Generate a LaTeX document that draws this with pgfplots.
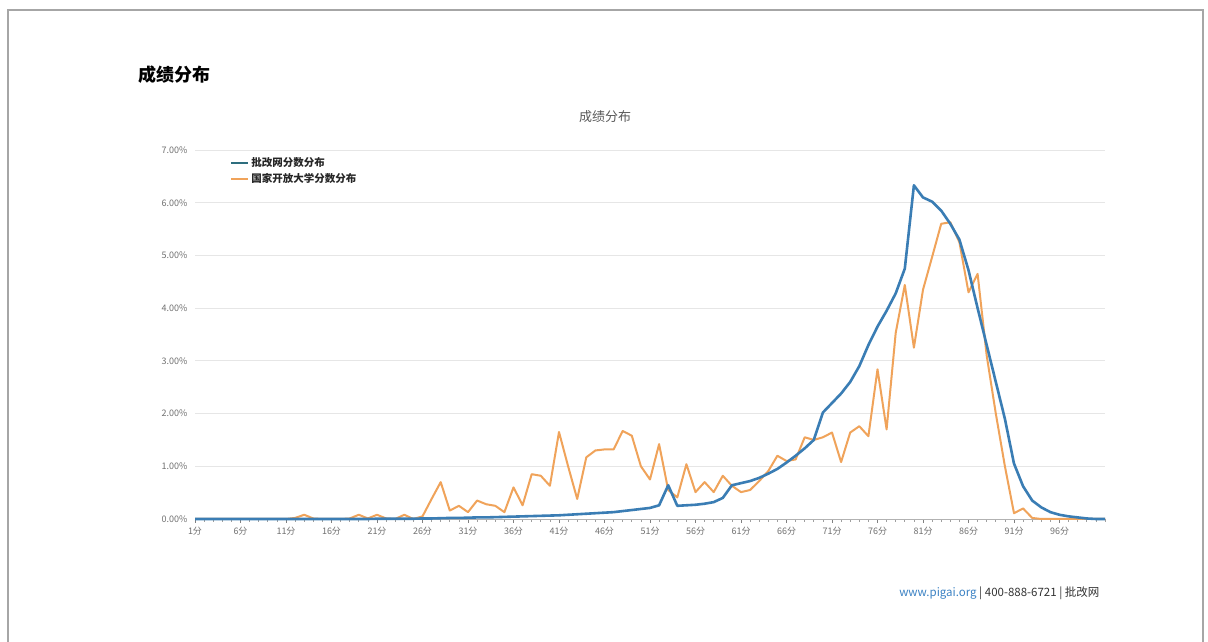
\documentclass[border=0pt]{standalone}
\usepackage{fontspec}
\setmainfont{Noto Sans CJK SC}
\usepackage{pgfplots}
\usepackage{pgfplotstable}
\pgfplotsset{compat=1.18}
\definecolor{pgblue}{HTML}{3A7DB4}
\definecolor{pgorange}{HTML}{F0A35A}
\definecolor{legblue}{HTML}{2E6E7E}
\definecolor{gridc}{HTML}{E6E6E6}
\definecolor{labc}{HTML}{707070}
\definecolor{urlc}{HTML}{3B82C4}

\pgfplotstableread{
k blue orange
1 0.00 0.00
2 0.00 0.00
3 0.00 0.00
4 0.00 0.00
5 0.00 0.00
6 0.00 0.00
7 0.00 0.00
8 0.00 0.00
9 0.00 0.00
10 0.00 0.00
11 0.00 0.00
12 0.00 0.02
13 0.00 0.08
14 0.00 0.01
15 0.00 0.00
16 0.00 0.00
17 0.00 0.00
18 0.00 0.01
19 0.00 0.08
20 0.00 0.01
21 0.005 0.08
22 0.005 0.01
23 0.005 0.00
24 0.005 0.08
25 0.005 0.00
26 0.01 0.05
27 0.01 0.38
28 0.015 0.70
29 0.02 0.16
30 0.02 0.25
31 0.025 0.13
32 0.03 0.35
33 0.03 0.28
34 0.035 0.25
35 0.04 0.13
36 0.045 0.60
37 0.05 0.26
38 0.055 0.85
39 0.06 0.82
40 0.065 0.63
41 0.07 1.65
42 0.08 1.00
43 0.09 0.38
44 0.10 1.17
45 0.11 1.30
46 0.12 1.32
47 0.13 1.32
48 0.15 1.67
49 0.17 1.58
50 0.19 1.00
51 0.21 0.75
52 0.26 1.42
53 0.64 0.55
54 0.25 0.41
55 0.26 1.04
56 0.27 0.51
57 0.29 0.70
58 0.32 0.51
59 0.40 0.82
60 0.64 0.63
61 0.68 0.51
62 0.72 0.55
63 0.78 0.72
64 0.86 0.91
65 0.95 1.20
66 1.07 1.10
67 1.20 1.13
68 1.34 1.55
69 1.50 1.50
70 2.02 1.55
71 2.20 1.64
72 2.38 1.08
73 2.60 1.64
74 2.90 1.76
75 3.30 1.57
76 3.65 2.84
77 3.95 1.70
78 4.28 3.53
79 4.75 4.44
80 6.33 3.25
81 6.10 4.35
82 6.02 4.97
83 5.85 5.60
84 5.60 5.63
85 5.30 5.25
86 4.72 4.30
87 4.00 4.65
88 3.30 3.10
89 2.60 2.00
90 1.90 1.00
91 1.05 0.11
92 0.62 0.20
93 0.35 0.02
94 0.22 0.00
95 0.13 0.00
96 0.08 0.00
97 0.05 0.00
98 0.03 0.00
99 0.01 0.00
100 0.00 0.00
101 0.00 0.00
}\scores

\begin{document}
\begin{tikzpicture}
\useasboundingbox (0pt,0pt) rectangle (1208pt,642pt);
\fill[white] (0pt,0pt) rectangle (1208pt,642pt);
\draw[gray!70, line width=1.2pt] (8pt,-5pt) -- (8pt,632pt) -- (1203pt,632pt) -- (1203pt,-5pt);
\node[anchor=west, font=\bfseries\fontsize{18}{20}\selectfont] at (135pt,567pt) {成绩分布};
\node[font=\fontsize{13}{15}\selectfont, text=black!65] at (605pt,525pt) {成绩分布};
\node[anchor=east, font=\fontsize{11.5}{13}\selectfont] at (1103pt,49pt)
  {\textcolor{urlc}{www.pigai.org} \textcolor{black!80}{| 400-888-6721 | 批改网}};
% tick marks only
\begin{axis}[
  at={(195pt,123pt)}, anchor=south west,
  scale only axis, width=910pt, height=369pt,
  xmin=1, xmax=101, ymin=0, ymax=7,
  axis x line*=bottom,
  axis y line=none,
  x axis line style={draw=gray!60, line width=0.8pt, -},
  xtick={1,6,...,96},
  minor xtick={1,...,101},
  xtick align=outside,
  xtick pos=lower,
  major tick length=4pt, minor tick length=3pt,
  xtick style={draw=gray!75, line width=0.7pt},
  xticklabels={},
]
\end{axis}
\begin{axis}[
  at={(195pt,123pt)}, anchor=south west,
  scale only axis, width=910pt, height=369pt,
  xmin=1, xmax=101, ymin=0, ymax=7,
  axis x line*=bottom,
  axis y line*=left,
  y axis line style={draw=none},
  x axis line style={draw=gray!60, line width=0.8pt, -},
  xtick={1,6,...,96},
  xtick align=outside,
  major tick length=4pt,
  ytick style={draw=none},
  xticklabel={\pgfmathprintnumber{\tick}分},
  ytick={0,1,...,7},
  ymajorgrids, grid style={gridc, line width=0.9pt},
  yticklabel={\pgfmathprintnumber[fixed,fixed zerofill,precision=2]{\tick}\%},
  /pgf/number format/assume math mode=true,
  ticklabel style={font=\fontsize{9}{10}\selectfont, text=labc},
  xticklabel style={yshift=-1pt},
  yticklabel style={xshift=-4pt},
  legend style={at={(0.035,0.99)}, anchor=north west, draw=none, fill=none,
    font=\fontsize{10.5}{12}\selectfont\bfseries, text=black!85, row sep=1pt,
    /tikz/every even column/.append style={column sep=4pt}},
  legend cell align=left,
  clip=false,
]
\addplot[pgorange, line width=2pt, line join=round, forget plot] table[x=k, y=orange] {\scores};
\addplot[pgblue, line width=2.6pt, line join=round, forget plot] table[x=k, y=blue] {\scores};
\addlegendimage{legblue, line width=2.2pt}
\addlegendentry{批改网分数分布}
\addlegendimage{pgorange, line width=2.2pt}
\addlegendentry{国家开放大学分数分布}
\end{axis}
\end{tikzpicture}
\end{document}
